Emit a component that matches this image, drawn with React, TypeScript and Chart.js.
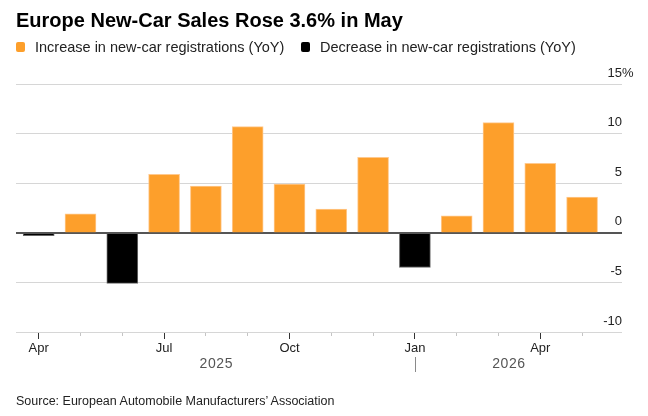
import React, { useEffect, useRef } from "react";
import { Chart, registerables } from "chart.js";

Chart.register(...registerables);

// Monthly year-over-year change in European new-car registrations, %
const MONTHS = [
  "Apr 2025", "May 2025", "Jun 2025", "Jul 2025", "Aug 2025", "Sep 2025", "Oct 2025",
  "Nov 2025", "Dec 2025", "Jan 2026", "Feb 2026", "Mar 2026", "Apr 2026", "May 2026",
];
const YOY_CHANGE = [-0.3, 1.9, -5.1, 5.9, 4.7, 10.7, 4.9, 2.4, 7.6, -3.5, 1.7, 11.1, 7.0, 3.6];
const MONTH_TICK_LABELS = ["Apr", "", "", "Jul", "", "", "Oct", "", "", "Jan", "", "", "Apr", ""];
const Y_TICKS = [-10, -5, 0, 5, 10, 15];

const TITLE = "Europe New-Car Sales Rose 3.6% in May";
const LEGEND_UP = "Increase in new-car registrations (YoY)";
const LEGEND_DOWN = "Decrease in new-car registrations (YoY)";
const SOURCE = "Source: European Automobile Manufacturers\u2019 Association";

const FONT = '"Liberation Sans", Arial, Helvetica, sans-serif';
const ORANGE = "#fd9f2b";
const ORANGE_EDGE = "#ffc98e";
const BLACK = "#000000";
const BLACK_EDGE = "#666666";
const GRID = "#d6d6d6";
const ZERO = "#555555";
const TEXT = "#222222";

const W = 648;
const H = 416;

// Year groups spanning the month axis, derived from the month names
function yearGroups() {
  const groups: { year: string; start: number; end: number }[] = [];
  MONTHS.forEach((m, i) => {
    const [mon, year] = m.split(" ");
    const last = groups[groups.length - 1];
    if (!last || last.year !== year) {
      groups.push({ year, start: mon === "Jan" ? i : i - 0.5, end: i + 0.5 });
    } else {
      last.end = i + 0.5;
    }
  });
  for (let g = 0; g < groups.length - 1; g++) groups[g].end = groups[g + 1].start;
  return groups;
}

const zeroLinePlugin = {
  id: "zeroLine",
  afterDatasetsDraw(chart: any) {
    const { ctx, chartArea, scales } = chart;
    const y = Math.round(scales.y.getPixelForValue(0)) + 0.5;
    ctx.save();
    ctx.strokeStyle = ZERO;
    ctx.lineWidth = 1;
    ctx.beginPath();
    ctx.moveTo(chartArea.left, y);
    ctx.lineTo(chartArea.right, y);
    ctx.stroke();
    ctx.restore();
  },
};

const axisExtrasPlugin = {
  id: "axisExtras",
  afterDraw(chart: any) {
    const { ctx, chartArea, scales } = chart;
    const x = scales.x;
    const y = scales.y;
    ctx.save();
    // percent sign after the top tick value
    ctx.font = `13px ${FONT}`;
    ctx.fillStyle = TEXT;
    ctx.textAlign = "left";
    ctx.textBaseline = "middle";
    ctx.fillText("%", chartArea.right, y.getPixelForValue(Y_TICKS[Y_TICKS.length - 1]) - 11);

    // year labels under the month ticks
    const groups = yearGroups();
    ctx.font = `14px ${FONT}`;
    ctx.fillStyle = "#555555";
    ctx.textAlign = "center";
    (ctx as any).letterSpacing = "0.6px";
    const yearY = x.top + 32;
    groups.forEach((g) => {
      const cx = x.getPixelForValue((g.start + g.end) / 2);
      ctx.fillText(g.year, cx, yearY);
    });
    // separator at each new year
    ctx.strokeStyle = "#8a8a8a";
    ctx.lineWidth = 1;
    groups.slice(1).forEach((g) => {
      const sx = Math.round(x.getPixelForValue(g.start)) + 0.5;
      ctx.beginPath();
      ctx.moveTo(sx, x.top + 25);
      ctx.lineTo(sx, x.top + 40);
      ctx.stroke();
    });
    ctx.restore();
  },
};

function ChartCanvas() {
  const ref = useRef<HTMLCanvasElement | null>(null);

  useEffect(() => {
    if (!ref.current) return;
    const ups = YOY_CHANGE.map((v, i) => ({ x: i, y: v >= 0 ? v : null }));
    const downs = YOY_CHANGE.map((v, i) => ({ x: i, y: v < 0 ? v : null }));

    const chart = new Chart(ref.current, {
      type: "bar",
      data: {
        datasets: [
          {
            label: LEGEND_UP,
            data: ups as any,
            backgroundColor: ORANGE,
            borderColor: ORANGE_EDGE,
            borderWidth: 1,
            barThickness: 31,
            grouped: false,
          },
          {
            label: LEGEND_DOWN,
            data: downs as any,
            backgroundColor: BLACK,
            borderColor: BLACK_EDGE,
            borderWidth: 1,
            barThickness: 31,
            grouped: false,
          },
        ],
      },
      options: {
        animation: false,
        responsive: false,
        devicePixelRatio: 1,
        layout: { padding: { top: 84, left: 16, right: 26, bottom: 0 } },
        plugins: {
          legend: { display: false },
          tooltip: { enabled: false },
          title: { display: false },
        },
        scales: {
          x: {
            type: "linear",
            offset: false,
            min: -0.543,
            max: MONTHS.length - 1 + 0.955,
            afterBuildTicks: (scale: any) => {
              scale.ticks = MONTHS.map((_, i) => ({ value: i }));
            },
            afterFit: (scale: any) => {
              scale.height = H - 332;
            },
            ticks: {
              autoSkip: false,
              maxRotation: 0,
              padding: 2,
              color: TEXT,
              font: { family: FONT, size: 13 },
              callback: (v: any) => MONTH_TICK_LABELS[v] ?? "",
            },
            grid: {
              offset: false,
              drawOnChartArea: false,
              drawTicks: true,
              tickLength: 7,
              tickColor: (c: any) => (MONTH_TICK_LABELS[c.tick?.value] ? "#333333" : "#c4c4c4"),
              tickBorderDash: (c: any) => (MONTH_TICK_LABELS[c.tick?.value] ? [] : [4, 100]),
            },
            border: { display: false },
          },
          y: {
            position: "right",
            min: Y_TICKS[0],
            max: Y_TICKS[Y_TICKS.length - 1],
            afterBuildTicks: (scale: any) => {
              scale.ticks = Y_TICKS.map((v) => ({ value: v }));
            },
            afterFit: (scale: any) => {
              scale.width = 0;
            },
            ticks: {
              mirror: true,
              padding: 0,
              labelOffset: -11,
              color: TEXT,
              font: { family: FONT, size: 13 },
              callback: (v: any) => String(v),
            },
            grid: {
              drawTicks: false,
              color: (c: any) => (c.tick?.value === 0 ? ZERO : GRID),
              lineWidth: 1,
            },
            border: { display: false },
          },
        },
      },
      plugins: [zeroLinePlugin, axisExtrasPlugin],
    });
    return () => chart.destroy();
  }, []);

  return (
    <canvas
      ref={ref}
      width={W}
      height={H}
      style={{ position: "absolute", left: 0, top: 0, width: W, height: H }}
    />
  );
}

function LegendItem({ color, label, left }: { color: string; label: string; left: number }) {
  return (
    <>
      <div
        style={{
          position: "absolute",
          left,
          top: 42,
          width: 9,
          height: 10,
          borderRadius: 2,
          background: color,
        }}
      />
      <div
        style={{
          position: "absolute",
          left: left + 19,
          top: 38,
          fontSize: 14.5,
          lineHeight: "18px",
          color: TEXT,
          whiteSpace: "nowrap",
        }}
      >
        {label}
      </div>
    </>
  );
}

export default function App() {
  return (
    <div
      style={{
        position: "fixed",
        left: 0,
        top: 0,
        width: W,
        height: H,
        background: "#ffffff",
        fontFamily: FONT,
        overflow: "hidden",
      }}
    >
      <ChartCanvas />
      <div
        style={{
          position: "absolute",
          left: 16,
          top: 9,
          fontSize: 20,
          lineHeight: "22px",
          fontWeight: 700,
          color: "#000000",
          whiteSpace: "nowrap",
        }}
      >
        {TITLE}
      </div>
      <LegendItem color={ORANGE} label={LEGEND_UP} left={16} />
      <LegendItem color={BLACK} label={LEGEND_DOWN} left={301} />
      <div
        style={{
          position: "absolute",
          left: 16,
          top: 393,
          fontSize: 12.5,
          lineHeight: "16px",
          color: TEXT,
          whiteSpace: "nowrap",
        }}
      >
        {SOURCE}
      </div>
    </div>
  );
}
